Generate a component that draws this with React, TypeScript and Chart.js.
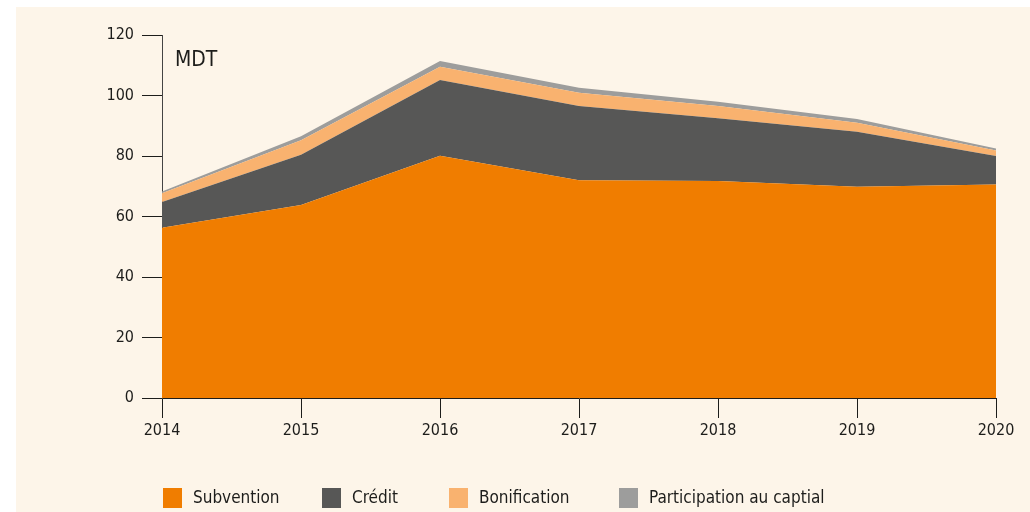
import { useEffect, useRef } from "react";
import { Chart, registerables } from "chart.js";

Chart.register(...registerables);

const years = ["2014", "2015", "2016", "2017", "2018", "2019", "2020"];
const subvention = [56.3, 63.8, 80.1, 72.0, 71.7, 69.8, 70.6];
const credit = [8.5, 16.6, 25.0, 24.5, 20.8, 18.2, 9.4];
const bonification = [2.9, 4.8, 4.4, 4.4, 4.0, 3.0, 1.8];
const participation = [0.6, 1.3, 1.9, 1.7, 1.4, 1.2, 0.7];
const seriesNames = ["Subvention", "Crédit", "Bonification", "Participation au captial"];
const seriesColors = ["#f07d00", "#575756", "#f9b26f", "#9d9d9c"];
const yMin = 0;
const yMax = 120;
const yStep = 20;
const unitLabel = "MDT";

const FONT = "'DejaVu Sans Condensed', 'DejaVu Sans', sans-serif";
const INK = "#1d1d1b";

const legendX = [147, 306, 433, 603];

const overlayPlugin = {
  id: "overlay",
  afterDraw(chart: any) {
    const ctx = chart.ctx;
    const area = chart.chartArea;
    ctx.save();
    ctx.fillStyle = INK;
    ctx.font = `21px ${FONT}`;
    ctx.textBaseline = "middle";
    ctx.textAlign = "left";
    ctx.fillText(unitLabel, area.left + 13, 54);
    // legend
    ctx.font = `17px ${FONT}`;
    chart.data.datasets.forEach((ds: any, i: number) => {
      const x = legendX[i];
      const y = 481;
      ctx.fillStyle = ds.backgroundColor;
      ctx.fillRect(x, y, 19, 20);
      ctx.fillStyle = INK;
      ctx.fillText(ds.label, x + 30, y + 11);
    });
    ctx.restore();
  },
};

export default function App() {
  const ref = useRef<HTMLCanvasElement | null>(null);
  useEffect(() => {
    document.body.style.margin = "0";
    const series = [subvention, credit, bonification, participation];
    const chart = new Chart(ref.current!, {
      type: "line",
      data: {
        labels: years,
        datasets: series.map((d, i) => ({
          label: seriesNames[i],
          data: d,
          backgroundColor: seriesColors[i],
          borderColor: seriesColors[i],
          borderWidth: 0,
          pointRadius: 0,
          tension: 0,
          fill: i === 0 ? "origin" : "-1",
        })),
      },
      options: {
        animation: false,
        responsive: false,
        maintainAspectRatio: false,
        layout: { padding: { left: 40, right: 34, top: 28, bottom: 69 } },
        plugins: {
          legend: { display: false },
          tooltip: { enabled: false },
        },
        scales: {
          x: {
            offset: false,
            grid: {
              drawOnChartArea: false,
              drawTicks: true,
              tickLength: 20,
              color: INK,
              lineWidth: 1,
            },
            border: { display: true, color: INK, width: 1 },
            ticks: {
              color: INK,
              font: { family: FONT, size: 16 },
              padding: 3,
              maxRotation: 0,
              autoSkip: false,
            },
            afterFit: (s: any) => {
              s.height = 45;
            },
          },
          y: {
            stacked: true,
            min: yMin,
            max: yMax,
            grid: {
              drawOnChartArea: false,
              drawTicks: true,
              tickLength: 20,
              color: INK,
              lineWidth: 1,
            },
            border: { display: true, color: "#444", width: 1 },
            ticks: {
              stepSize: yStep,
              color: INK,
              font: { family: FONT, size: 16 },
              padding: 8,
            },
            afterFit: (s: any) => {
              s.width = 106;
            },
          },
        },
      },
      plugins: [overlayPlugin],
    });
    return () => chart.destroy();
  }, []);

  return (
    <div style={{ position: "relative", width: 1030, height: 512, background: "#ffffff" }}>
      <div
        style={{
          position: "absolute",
          left: 16,
          top: 7,
          width: 1014,
          height: 505,
          background: "#fdf5e9",
        }}
      >
        <canvas ref={ref} width={1014} height={505} style={{ display: "block" }} />
      </div>
    </div>
  );
}
